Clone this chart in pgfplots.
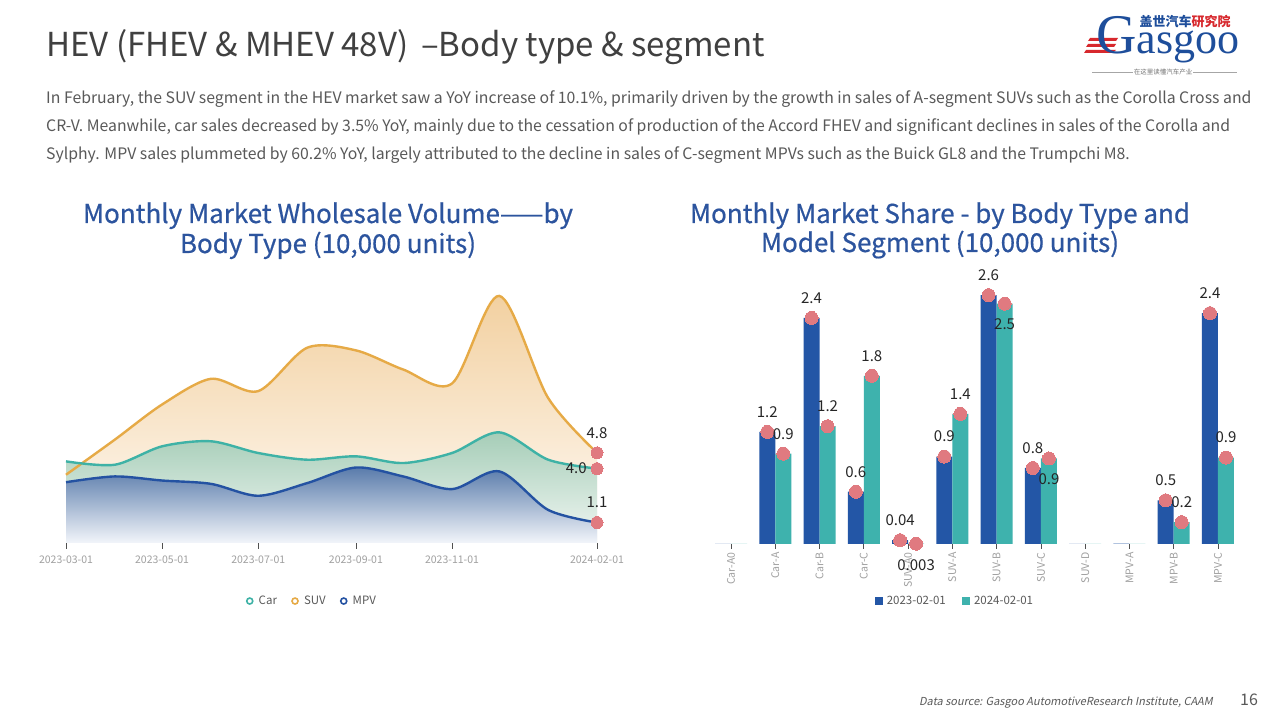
\documentclass[border=0pt]{standalone}
\usepackage{pgfplots}
\pgfplotsset{compat=1.18}
\usepackage{pgfplotstable}
\usepackage{fontspec}
\setmainfont{Noto Sans CJK SC}
\newfontfamily\slantfont{Noto Sans CJK SC}[FakeSlant=0.2]
\newfontfamily\medfont{Noto Sans CJK SC}[FakeBold=0.6]
\newfontfamily\logofont{Liberation Serif}
\definecolor{titlegray}{RGB}{64,64,64}
\definecolor{textgray}{RGB}{89,89,89}
\definecolor{ctitle}{RGB}{44,84,158}
\definecolor{barblue}{RGB}{35,86,166}
\definecolor{barteal}{RGB}{62,178,173}
\definecolor{dotpink}{RGB}{224,122,128}
\definecolor{suvline}{RGB}{230,170,70}
\definecolor{carline}{RGB}{62,178,166}
\definecolor{mpvline}{RGB}{36,82,162}
\definecolor{suvtop}{RGB}{242,208,160}
\definecolor{suvbot}{RGB}{255,251,246}
\definecolor{cartop}{RGB}{165,205,183}
\definecolor{carbot}{RGB}{242,247,244}
\definecolor{mpvtop}{RGB}{88,122,170}
\definecolor{mpvbot}{RGB}{242,245,250}
\definecolor{ticklab}{RGB}{160,160,160}
\definecolor{tickcol}{RGB}{80,80,80}
\definecolor{logoblue}{RGB}{30,78,155}
\definecolor{logored}{RGB}{215,40,45}

\pgfplotstableread{
d suv car mpv
0 3.67 4.39 3.27
31 5.56 4.21 3.58
61 7.45 5.20 3.36
92 8.83 5.47 3.18
122 8.17 4.84 2.54
153 10.50 4.48 3.22
184 10.36 4.66 4.06
214 9.33 4.30 3.58
245 8.58 4.84 2.90
275 13.29 5.95 3.85
306 7.80 4.48 1.78
337 4.85 4.00 1.10
}\monthly

\pgfplotstableread{
x a b
0 0 0
1 1.18 0.95
2 2.38 1.24
3 0.55 1.77
4 0.04 0.003
5 0.92 1.37
6 2.62 2.53
7 0.80 0.90
8 0 0
9 0.005 0
10 0.46 0.23
11 2.43 0.91
}\segs

\pgfplotstableread{
x a la
1 1.18 1.2
2 2.38 2.4
3 0.55 0.6
4 0.04 0.04
5 0.92 0.9
6 2.62 2.6
7 0.80 0.8
10 0.46 0.5
11 2.43 2.4
}\bluedots

\pgfplotstableread{
x b lb
1 0.95 0.9
2 1.24 1.2
3 1.77 1.8
5 1.37 1.4
10 0.23 0.2
11 0.91 0.9
}\tealup

\pgfplotstableread{
x b lb
4 0.003 0.003
6 2.53 2.5
7 0.90 0.9
}\tealdown

\pgfplotsset{
  pinkdot/.style={dotpink, only marks, mark=*, mark size=#1,
    mark options={solid, fill=dotpink, draw=dotpink, line width=0pt}, forget plot,
    nodes near coords, point meta=explicit symbolic},
  vlabel/.style={every node near coord/.append style={text=black!85, font=\fontsize{15}{16}\selectfont}},
}

\begin{document}
\begin{tikzpicture}[x=1pt,y=1pt]
\path[use as bounding box, fill=white] (0,0) rectangle (1280,720);

% page title
\node[anchor=base west, inner sep=0, text=titlegray, font=\fontsize{33}{36}\selectfont] at (46,663) {HEV (FHEV \& MHEV 48V) \,--Body type \& segment};

% paragraph
\begin{scope}[every node/.style={anchor=base west, inner sep=0, text=textgray, font=\fontsize{15.8}{18}\selectfont}]
\node at (46,616) {In February, the SUV segment in the HEV market saw a YoY increase of 10.1\%, primarily driven by the growth in sales of A-segment SUVs such as the Corolla Cross and};
\node at (46,588) {CR-V. Meanwhile, car sales decreased by 3.5\% YoY, mainly due to the cessation of production of the Accord FHEV and significant declines in sales of the Corolla and};
\node at (46,560) {Sylphy. MPV sales plummeted by 60.2\% YoY, largely attributed to the decline in sales of C-segment MPVs such as the Buick GL8 and the Trumpchi M8.};
\end{scope}

% chart titles
\begin{scope}[every node/.style={anchor=base, inner sep=0, text=ctitle, font=\medfont\fontsize{26}{30}\selectfont}]
\node at (328,497) {Monthly Market Wholesale Volume——by};
\node at (328,467) {Body Type (10,000 units)};
\node at (940,497) {Monthly Market Share - by Body Type and};
\node at (940,468) {Model Segment (10,000 units)};
\end{scope}

% logo
\fill[logored] (1090,682) -- (1118,682) -- (1116,679) -- (1088,679) -- cycle;
\fill[logored] (1088,676) -- (1116,676) -- (1114,673) -- (1086,673) -- cycle;
\fill[logored] (1086,670) -- (1116,670) -- (1112,667) -- (1084,667) -- cycle;
\node[anchor=base west, inner sep=0, text=logoblue] at (1096,666)
  {{\logofont\fontsize{56}{56}\selectfont G}\rlap{\raisebox{27pt}{\kern3pt\bfseries\fontsize{13}{14}\selectfont 盖世汽车\textcolor{logored}{研究院}}}{\logofont\fontsize{44}{44}\selectfont asgoo}};
\node[inner sep=0, text=black!55, font=\fontsize{6.5}{7}\selectfont] at (1163,648) {在这里读懂汽车产业};
\draw[black!35, line width=0.5pt] (1092,648) -- (1133,648);
\draw[black!35, line width=0.5pt] (1193,648) -- (1237,648);

% footer
\node[anchor=base east, inner sep=0, text=textgray, font=\slantfont\fontsize{11}{12}\selectfont] at (1213,14) {Data source: Gasgoo AutomotiveResearch Institute, CAAM};
\node[anchor=base, inner sep=0, text=textgray, font=\fontsize{16}{18}\selectfont] at (1249,14) {16};

% ---------------- left chart ----------------
\begin{axis}[
  at={(66pt,177pt)}, anchor=south west, scale only axis,
  width=531pt, height=260.3pt,
  xmin=0, xmax=337, ymin=0, ymax=14,
  axis y line=none, axis x line*=bottom,
  x axis line style={draw=none},
  xtick={0,61,122,184,245,337},
  xticklabels={2023-03-01,2023-05-01,2023-07-01,2023-09-01,2023-11-01,2024-02-01},
  tick align=outside, major tick length=6pt,
  tick style={color=tickcol, line width=0.8pt},
  xticklabel style={font=\fontsize{10.5}{12}\selectfont, text=ticklab, yshift=-3pt},
  clip=false,
  legend columns=3,
  legend style={at={(0.463,-0.223)}, anchor=center, draw=none, fill=none,
    font=\fontsize{11.5}{13}\selectfont, text=textgray,
    /tikz/every even column/.append style={column sep=12pt}},
]
\addplot[draw=none, top color=suvtop, bottom color=suvbot, smooth, forget plot] table[x=d,y=suv]{\monthly} \closedcycle;
\addplot[draw=none, top color=cartop, bottom color=carbot, smooth, forget plot] table[x=d,y=car]{\monthly} \closedcycle;
\addplot[draw=none, top color=mpvtop, bottom color=mpvbot, smooth, forget plot] table[x=d,y=mpv]{\monthly} \closedcycle;
\addplot[suvline, line width=2.4pt, smooth, forget plot] table[x=d,y=suv]{\monthly};
\addplot[carline, line width=2.4pt, smooth, forget plot] table[x=d,y=car]{\monthly};
\addplot[mpvline, line width=2.4pt, smooth, forget plot] table[x=d,y=mpv]{\monthly};
\addplot[pinkdot=6pt, vlabel, every node near coord/.append style={anchor=center, yshift=20pt}]
  coordinates {(337,4.85)[4.8] (337,1.10)[1.1]};
\addplot[pinkdot=6pt, vlabel, every node near coord/.append style={anchor=east, xshift=-7pt}]
  coordinates {(337,4.00)[4.0]};
\addlegendimage{legend image code/.code={\draw[carline, line width=1.6pt, fill=none] (0pt,0pt) circle (3pt); \path[draw=none, fill=none] (-4pt,-1pt) rectangle (7pt,1pt);}}
\addlegendentry{Car}
\addlegendimage{legend image code/.code={\draw[suvline, line width=1.6pt, fill=none] (0pt,0pt) circle (3pt); \path[draw=none, fill=none] (-4pt,-1pt) rectangle (7pt,1pt);}}
\addlegendentry{SUV}
\addlegendimage{legend image code/.code={\draw[mpvline, line width=1.6pt, fill=none] (0pt,0pt) circle (3pt); \path[draw=none, fill=none] (-4pt,-1pt) rectangle (7pt,1pt);}}
\addlegendentry{MPV}
\end{axis}

% ---------------- right chart ----------------
\begin{axis}[
  at={(708.9pt,176pt)}, anchor=south west, scale only axis,
  width=531.2pt, height=285pt,
  xmin=-0.5, xmax=11.5, ymin=0, ymax=3,
  axis y line=none, axis x line*=bottom,
  x axis line style={draw=none},
  xtick={0,...,11},
  xticklabels={Car-A0,Car-A,Car-B,Car-C,SUV-A0,SUV-A,SUV-B,SUV-C,SUV-D,MPV-A,MPV-B,MPV-C},
  tick align=outside, major tick length=5pt,
  tick style={color=tickcol, line width=0.8pt},
  xticklabel style={rotate=90, anchor=east, font=\fontsize{10.5}{12}\selectfont, text=ticklab},
  clip=false,
  legend columns=2,
  legend style={at={(0.463,-0.2)}, anchor=center, draw=none, fill=none,
    font=\fontsize{11.5}{13}\selectfont, text=textgray,
    /tikz/every even column/.append style={column sep=14pt}},
]
\addplot[ybar, bar width=16pt, bar shift=0pt, fill=barblue, draw=none, forget plot] table[x expr=\thisrow{x}-0.181, y=a]{\segs};
\addplot[ybar, bar width=16pt, bar shift=0pt, fill=barteal, draw=none, forget plot] table[x expr=\thisrow{x}+0.181, y=b]{\segs};
\addplot[pinkdot=6.5pt, vlabel, every node near coord/.append style={anchor=center, yshift=20pt}]
  table[x expr=\thisrow{x}-0.181, y=a, meta=la]{\bluedots};
\addplot[pinkdot=6.5pt, vlabel, every node near coord/.append style={anchor=center, yshift=20pt}]
  table[x expr=\thisrow{x}+0.181, y=b, meta=lb]{\tealup};
\addplot[pinkdot=6.5pt, vlabel, every node near coord/.append style={anchor=center, yshift=-21pt}]
  table[x expr=\thisrow{x}+0.181, y=b, meta=lb]{\tealdown};
\addlegendimage{legend image code/.code={\fill[barblue] (0pt,-3.5pt) rectangle (7pt,3.5pt); \path[draw=none, fill=none] (0pt,-1pt) rectangle (10pt,1pt);}}
\addlegendentry{2023-02-01}
\addlegendimage{legend image code/.code={\fill[barteal] (0pt,-3.5pt) rectangle (7pt,3.5pt); \path[draw=none, fill=none] (0pt,-1pt) rectangle (10pt,1pt);}}
\addlegendentry{2024-02-01}
\end{axis}
\end{tikzpicture}
\end{document}
